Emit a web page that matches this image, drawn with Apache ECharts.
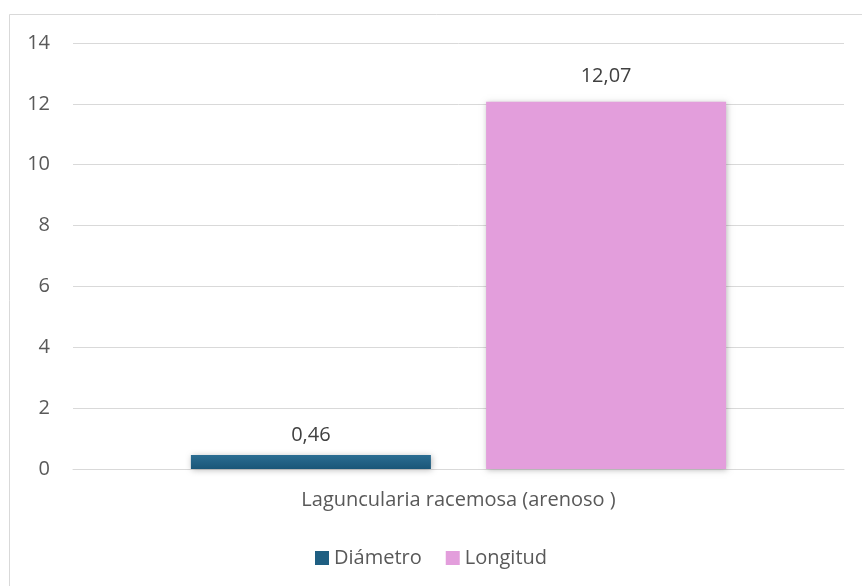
<!DOCTYPE html>
<html>
<head>
<meta charset="utf-8">
<script src="https://cdn.jsdelivr.net/npm/echarts@6/dist/echarts.min.js"></script>
<style>
  html, body { margin: 0; padding: 0; background: #ffffff; }
  #chart { width: 862px; height: 586px; }
</style>
</head>
<body>
<div id="chart"></div>
<script>
// Plant measurements, sandy substrate
const categories = ['Laguncularia racemosa (arenoso )'];
const seriesNames = ['Diámetro', 'Longitud'];
const diametro = [0.46];
const longitud = [12.07];
const seriesColors = ['#1F5F82', '#E39EDC'];

const fmt = v => v.toFixed(2).replace('.', ',');
const font = '"Open Sans", "Liberation Sans", sans-serif';
const fs = 20;

const chart = echarts.init(document.getElementById('chart'));

const barStyle = (color, grad) => ({
  color: grad ? new echarts.graphic.LinearGradient(0, 0, 0, 1, [
    { offset: 0, color: '#2B6D92' },
    { offset: 1, color: '#1A5678' }
  ]) : color,
  shadowColor: 'rgba(0,0,0,0.28)',
  shadowBlur: 6,
  shadowOffsetX: 1,
  shadowOffsetY: 1
});

const dataLabel = (dist) => ({
  show: true, position: 'top', distance: dist,
  color: '#404040', fontSize: fs, fontFamily: font,
  formatter: p => fmt(p.value)
});

chart.setOption({
  animation: false,
  backgroundColor: '#ffffff',
  graphic: [{
    type: 'rect',
    shape: { x: 9.5, y: 14.5, width: 900, height: 700 },
    style: { fill: 'none', stroke: '#D9D9D9', lineWidth: 1 },
    silent: true,
    z: -1
  }],
  grid: { left: 73, right: 18, top: 43, bottom: 117, containLabel: false },
  legend: {
    data: seriesNames.map((n, i) => ({ name: n, itemStyle: { color: seriesColors[i] } })),
    top: 543,
    left: 'center',
    itemWidth: 14,
    itemHeight: 14,
    itemGap: 24,
    icon: 'rect',
    textStyle: { color: '#595959', fontSize: fs, fontFamily: font }
  },
  xAxis: {
    type: 'category',
    data: categories,
    axisLine: { show: true, lineStyle: { color: '#D9D9D9', width: 1 } },
    axisTick: { show: false },
    axisLabel: { color: '#595959', fontSize: fs, fontFamily: font, margin: 21 }
  },
  yAxis: {
    type: 'value',
    min: 0,
    max: 14,
    interval: 2,
    axisLine: { show: false },
    axisTick: { show: false },
    splitLine: { lineStyle: { color: '#D9D9D9', width: 1 } },
    axisLabel: { color: '#595959', fontSize: fs, fontFamily: font, margin: 23 }
  },
  series: [
    {
      name: seriesNames[0],
      type: 'bar',
      data: diametro,
      barWidth: 240,
      barGap: '23%',
      itemStyle: barStyle(seriesColors[0], true),
      label: dataLabel(10)
    },
    {
      name: seriesNames[1],
      type: 'bar',
      data: longitud,
      barWidth: 240,
      itemStyle: barStyle(seriesColors[1], false),
      label: dataLabel(15)
    }
  ]
});
</script>
</body>
</html>
